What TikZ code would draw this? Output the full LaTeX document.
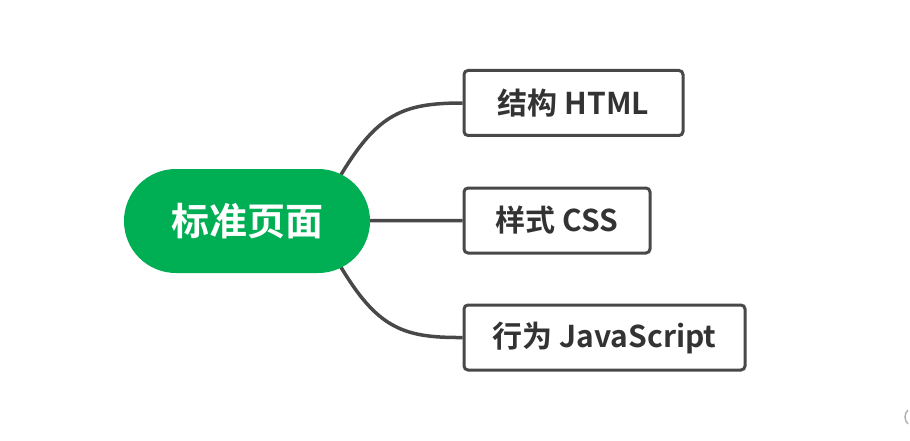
\documentclass[tikz,border=0pt]{standalone}
\usepackage{fontspec}
\setmainfont{Noto Sans CJK SC}[BoldFont={Noto Sans CJK SC Bold}]
\usetikzlibrary{backgrounds}
\definecolor{pillgreen}{HTML}{00AE53}
\definecolor{edgegray}{HTML}{484848}
\definecolor{txtgray}{HTML}{333333}
\tikzset{
  pill/.style={fill=pillgreen, draw=none, rounded corners=51.9pt, minimum width=246pt, minimum height=104pt, inner sep=0pt, text=white, font=\fontsize{38}{44}\selectfont\bfseries},
  leafbox/.style={draw=edgegray, line width=3pt, rounded corners=4pt, fill=white, minimum height=65pt, inner sep=0pt, text=txtgray, font=\fontsize{30}{36}\selectfont\bfseries},
  link/.style={draw=edgegray, line width=3.5pt}
}
\begin{document}
\begin{tikzpicture}[x=1pt,y=-1pt]
\useasboundingbox (0,0) rectangle (910,441);
\node[pill] (root) at (247,221) {标准页面};
\node[leafbox, minimum width=219pt] (html) at (573.5,103) {结构 HTML};
\node[leafbox, minimum width=186pt] (css) at (557,220.5) {样式 CSS};
\node[leafbox, minimum width=281pt] (js) at (604.5,337.5) {行为 JavaScript};
\coordinate (s1) at (335,185);
\coordinate (s3) at (335,257);
\begin{pgfonlayer}{background}
\draw[link] (s1) .. controls (375,115) and (400,103) .. (html.west);
\draw[link] (root.center) -- (css.west);
\draw[link] (s3) .. controls (375,327) and (400,338) .. (js.west);
\end{pgfonlayer}
\draw[black!30, line width=1.5pt] (908,410) .. controls (904,414) and (904,420) .. (908,424);
\end{tikzpicture}
\end{document}
